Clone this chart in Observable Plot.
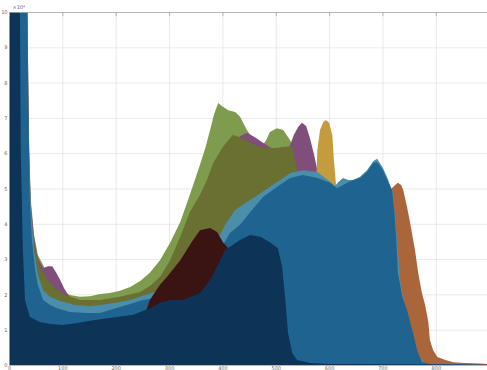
<!DOCTYPE html>
<html>
<head>
<meta charset="utf-8">
<script src="https://cdn.jsdelivr.net/npm/d3@7"></script>
<script src="https://cdn.jsdelivr.net/npm/@observablehq/plot@0.6"></script>
<style>
  html, body { margin: 0; padding: 0; background: #fff; }
  #chart svg { display: block; }
</style>
</head>
<body>
<div id="chart"></div>
<script>
// Tick values (y in units of 10^4 counts)
const xTicks = [0, 100, 200, 300, 400, 500, 600, 700, 800];
const yTicks = [0, 1, 2, 3, 4, 5, 6, 7, 8, 9, 10];

// Histogram outlines per layer: [bin, count / 1e4]
const copper = [[602,0],[621,1.84],[658,3.26],[696,4.67],[714,4.96],[724,5.10],[729,5.16],[735,5.10],[739,4.96],[746,4.48],[752,4.02],[761,3.26],[767,2.61],[774,2.04],[780,1.70],[786,1.22],[789,0.71],[795,0.42],[803,0.23],[818,0.14],[833,0.08],[855,0.06],[883,0.04],[896,0.03]];

const green = [[0,14],[31,14],[38,6.09],[41,4.67],[47,3.68],[54,3.12],[64,2.83],[73,2.55],[86,2.32],[99,2.12],[114,1.98],[133,1.93],[152,1.95],[171,2.01],[189,2.04],[208,2.10],[227,2.21],[246,2.38],[264,2.61],[283,2.97],[302,3.46],[321,4.05],[339,4.82],[358,5.67],[368,6.15],[377,6.66],[384,7.08],[392,7.42],[399,7.34],[411,7.22],[424,7.17],[433,7.03],[446,6.66],[461,6.32],[474,6.20],[482,6.37],[489,6.60],[502,6.71],[514,6.66],[527,6.37],[536,6.09],[546,5.81],[564,5.38],[583,4.96],[602,4.53],[621,3.97],[639,3.26],[658,2.41],[677,1.42],[696,0.57],[714,0.08],[733,0]];

const purple = [[0,14],[31,14],[38,5.81],[41,4.53],[47,3.60],[54,3.03],[64,2.75],[73,2.80],[81,2.80],[88,2.63],[96,2.41],[103,2.18],[111,1.98],[124,1.76],[152,1.70],[208,1.78],[264,1.98],[321,2.97],[358,4.11],[396,5.38],[420,6.30],[433,6.48],[446,6.58],[461,6.45],[474,6.32],[486,6.20],[499,6.09],[518,6.03],[527,6.23],[534,6.52],[542,6.74],[549,6.86],[557,6.77],[564,6.43],[572,5.95],[578,5.52],[587,4.96],[602,4.67],[621,4.25],[639,3.54],[658,2.69],[677,1.56],[696,0.57],[714,0.08],[733,0]];

const olive = [[0,14],[31,14],[36,6.37],[41,4.25],[49,3.26],[58,2.75],[73,2.41],[86,2.18],[105,1.98],[133,1.84],[171,1.84],[208,1.93],[246,2.07],[264,2.24],[283,2.49],[302,2.97],[321,3.63],[339,4.33],[358,4.82],[371,5.24],[383,5.72],[401,6.18],[420,6.52],[446,6.37],[461,6.23],[476,6.15],[499,6.15],[518,6.18],[531,6.20],[538,5.67],[546,5.30],[564,5.18],[583,5.01],[602,4.73],[621,4.33],[639,3.77],[658,2.92],[677,1.84],[696,0.71],[714,0.14],[733,0]];

const gold = [[545,0],[568,4.67],[576,5.24],[578,6.09],[583,6.66],[589,6.88],[594,6.94],[600,6.86],[606,6.52],[609,5.81],[613,5.10],[621,4.53],[639,3.54],[658,1.84],[677,0]];

const lightTeal = [[0,14],[32,14],[36,6.94],[41,4.39],[47,3.26],[54,2.55],[64,2.12],[77,1.93],[96,1.81],[124,1.70],[152,1.67],[171,1.70],[199,1.76],[227,1.84],[255,1.98],[283,2.12],[311,2.32],[339,2.63],[368,3.03],[386,3.40],[405,3.97],[424,4.39],[443,4.59],[461,4.76],[480,4.96],[502,5.18],[527,5.44],[551,5.52],[578,5.47],[598,5.24],[611,5.07],[617,5.18],[626,5.30],[636,5.24],[645,5.24],[658,5.33],[671,5.52],[683,5.78],[690,5.84],[701,5.58],[711,5.24],[720,4.82],[726,3.82],[733,2.41],[743,1.56],[761,0.42],[780,0.03],[896,0]];

const blue = [[0,14],[32,14],[36,7.51],[39,4.67],[43,3.54],[49,2.69],[54,2.27],[64,1.84],[77,1.70],[90,1.61],[114,1.50],[146,1.47],[171,1.47],[189,1.56],[221,1.70],[251,1.84],[278,1.90],[302,1.98],[330,2.12],[358,2.41],[377,2.69],[396,3.26],[414,3.74],[433,3.97],[452,4.33],[476,4.76],[502,5.04],[527,5.30],[551,5.38],[578,5.30],[602,5.16],[615,5.01],[634,5.16],[645,5.24],[658,5.30],[671,5.47],[683,5.72],[690,5.75],[701,5.52],[709,5.24],[718,4.96],[722,4.39],[726,3.54],[729,2.61],[737,1.93],[746,1.56],[756,0.99],[765,0.42],[774,0.08],[789,0.03],[896,0]];

const maroon = [[230,0],[255,1.44],[264,1.84],[283,2.27],[296,2.49],[321,2.97],[345,3.54],[358,3.82],[377,3.88],[390,3.77],[401,3.48],[414,3.26],[433,2.92],[452,2.41],[471,1.84],[489,0.99],[508,0]];

const navy = [[0,14],[19,14],[22,6.09],[26,3.26],[30,1.84],[39,1.36],[58,1.22],[77,1.16],[101,1.13],[128,1.19],[158,1.27],[189,1.33],[233,1.42],[264,1.61],[283,1.76],[302,1.84],[326,1.84],[358,2.04],[377,2.41],[396,2.97],[405,3.26],[433,3.54],[452,3.68],[471,3.63],[489,3.48],[504,3.31],[512,2.78],[518,1.84],[523,0.91],[531,0.34],[540,0.14],[564,0.06],[602,0.03],[733,0.02],[896,0.01]];

// Drawing order: back to front
const layers = [
  {data: copper, color: "#ab653b"},
  {data: green, color: "#7f9b4e"},
  {data: purple, color: "#7f4e7a"},
  {data: olive, color: "#6a6f32"},
  {data: gold, color: "#c49c3e"},
  {data: lightTeal, color: "#4a8eab"},
  {data: blue, color: "#1f6391"},
  {data: maroon, color: "#3a1313"},
  {data: navy, color: "#0d3357"}
];

const chart = Plot.plot({
  width: 487,
  height: 370,
  marginLeft: 9,
  marginRight: 0,
  marginTop: 12,
  marginBottom: 5,
  x: {domain: [0, 896], label: null},
  y: {domain: [0, 10], label: null},
  style: {fontFamily: "DejaVu Sans", fontSize: "5px", background: "#fff"},
  marks: [
    Plot.gridX(xTicks, {stroke: "#dcdcdc", strokeOpacity: 1, strokeWidth: 0.6}),
    Plot.gridY(yTicks, {stroke: "#dcdcdc", strokeOpacity: 1, strokeWidth: 0.6}),
    ...layers.map(l => Plot.areaY(l.data, {x: d => d[0], y: d => d[1], fill: l.color, clip: true})),
    Plot.ruleY([10], {stroke: "#a8a8a8", strokeWidth: 0.8}),
    Plot.ruleX(xTicks, {y1: 10, y2: 9.88, stroke: "#a8a8a8", strokeWidth: 0.8}),
    Plot.ruleX([0], {stroke: "#a8a8a8", strokeWidth: 0.8}),
    Plot.ruleY([0], {stroke: "#a8a8a8", strokeWidth: 0.8}),
    Plot.axisX(xTicks, {tickSize: 0, tickPadding: 1, fontSize: 5, fill: "#666"}),
    Plot.axisY(yTicks, {tickSize: 0, tickPadding: 2, fontSize: 5, fill: "#666"}),
    Plot.text(["×10⁴"], {frameAnchor: "top-left", dx: 3, dy: -7, fontSize: 5, fill: "#666", textAnchor: "start"})
  ]
});

document.getElementById("chart").appendChild(chart);
</script>
</body>
</html>
